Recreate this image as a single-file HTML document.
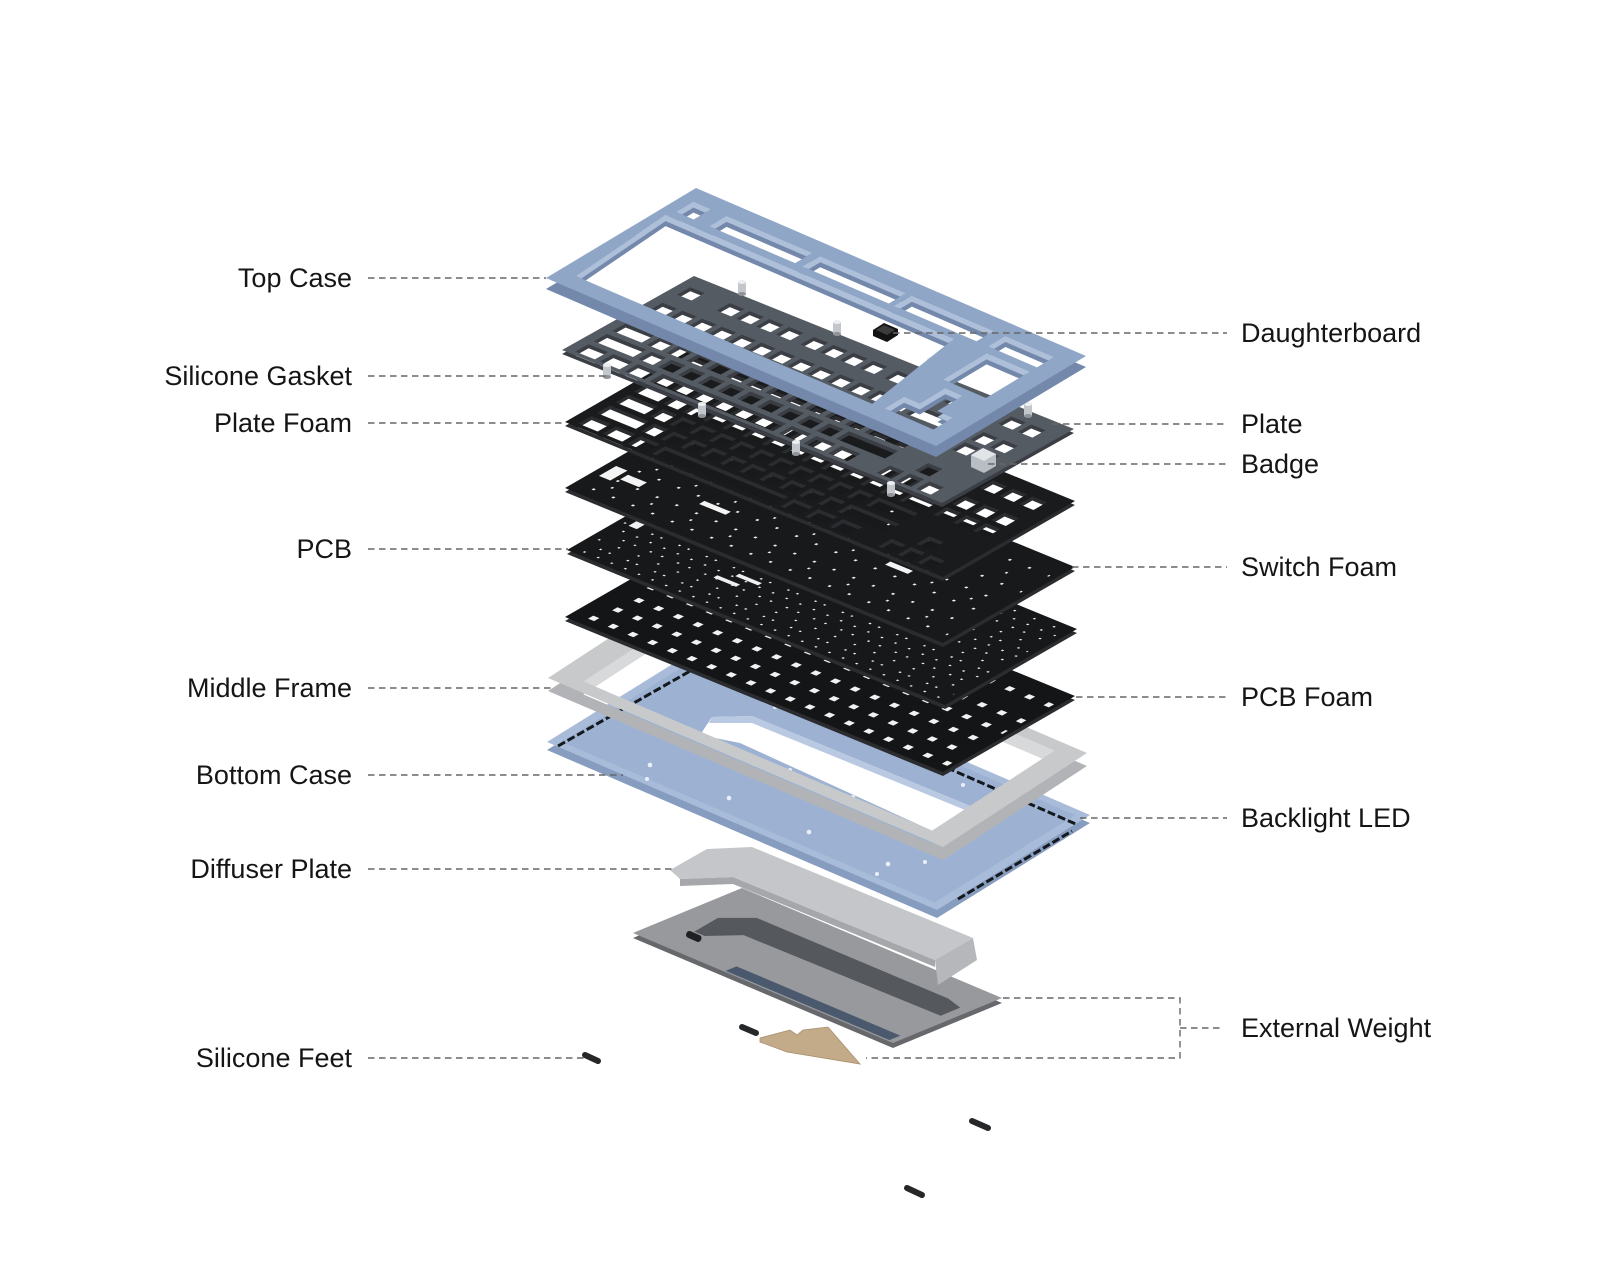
<!DOCTYPE html>
<html><head><meta charset="utf-8">
<style>
html,body{margin:0;padding:0;background:#fff;}
svg{display:block;}
text{font-family:"Liberation Sans",Arial,sans-serif;font-size:27px;fill:#151515;}
</style></head>
<body>
<svg width="1600" height="1280" viewBox="0 0 1600 1280" xmlns="http://www.w3.org/2000/svg">
<defs>
  <g id="kh" stroke-width="100" fill="none">
    <line x1="25" x2="739" y1="640" y2="640" stroke-dasharray="38 14"/>
    <line x1="701" x2="791" y1="640" y2="640"/>
    <line x1="818" x2="960" y1="640" y2="640" stroke-dasharray="38 14"/>
    <line x1="25" x2="89" y1="500" y2="500"/>
    <line x1="103" x2="713" y1="500" y2="500" stroke-dasharray="38 14"/>
    <line x1="727" x2="791" y1="500" y2="500"/>
    <line x1="818" x2="960" y1="500" y2="500" stroke-dasharray="38 14"/>
    <line x1="25" x2="102" y1="360" y2="360"/>
    <line x1="116" x2="674" y1="360" y2="360" stroke-dasharray="38 14"/>
    <line x1="688" x2="791" y1="360" y2="360"/>
    <line x1="25" x2="128" y1="220" y2="220"/>
    <line x1="142" x2="648" y1="220" y2="220" stroke-dasharray="38 14"/>
    <line x1="662" x2="791" y1="220" y2="220"/>
    <line x1="870" x2="908" y1="220" y2="220"/>
    <line x1="25" x2="206" y1="80" y2="80" stroke-dasharray="51 14"/>
    <line x1="220" x2="545" y1="80" y2="80"/>
    <line x1="560" x2="741" y1="80" y2="80" stroke-dasharray="51 14"/>
    <line x1="818" x2="960" y1="80" y2="80" stroke-dasharray="38 14"/>
    <line x1="25" x2="63" y1="850" y2="850"/>
    <line x1="129" x2="323" y1="850" y2="850" stroke-dasharray="38 14"/>
    <line x1="350" x2="544" y1="850" y2="850" stroke-dasharray="38 14"/>
    <line x1="571" x2="765" y1="850" y2="850" stroke-dasharray="38 14"/>
    <line x1="818" x2="960" y1="850" y2="850" stroke-dasharray="38 14"/>
  </g>
  <mask id="khm" maskUnits="userSpaceOnUse" x="-300" y="-300" width="1600" height="1600">
    <rect x="-300" y="-300" width="1600" height="1600" fill="#fff"/>
    <use href="#kh" stroke="#000"/>
  </mask>
  <clipPath id="tcc"><path d="M40 95L22 740H760L800 95Z M845 450H955V740H845Z M830 100H955V230H915V400H870V230H830Z M30 790H75V905H30Z M115 790H335V905H115Z M355 790H575V905H355Z M590 790H800V905H590Z M830 790H955V905H830Z"/></clipPath>
  <clipPath id="mfc"><path d="M62 75H945V925H62Z"/></clipPath>
</defs>

<!-- Silicone feet -->
<g stroke="#262729" stroke-width="6" stroke-linecap="round">
  <line x1="742" y1="1027" x2="756" y2="1033"/>
  <line x1="585" y1="1055" x2="598" y2="1061"/>
  <line x1="972" y1="1121" x2="988" y2="1128"/>
  <line x1="907" y1="1188" x2="922" y2="1195"/>
</g>

<!-- Brass external weight -->
<polygon points="760,1038 790,1030 797,1035 803,1030 828,1027 860,1064 787,1052 760,1042" fill="#c3aa89" stroke="#a88f6e" stroke-width="0.8"/>

<!-- Weight plate -->
<g transform="translate(0,5) matrix(0.260 0.110 0.109 -0.045 633 933)"><rect width="1000" height="1000" fill="#66686c"/></g>
<g transform="matrix(0.260 0.110 0.109 -0.045 633 933)">
  <rect width="1000" height="1000" fill="#97999c"/>
  <polygon points="110,300 92,560 165,740 900,745 965,700 965,520 220,490 150,300" fill="#55585d"/>
  <rect x="350" y="15" width="630" height="100" fill="#4a596e"/>
</g>
<rect x="686" y="933" width="16" height="7" rx="3" fill="#1f2022" transform="rotate(24 694 936)"/>

<!-- Diffuser plate -->
<polygon points="680,879 733,877 935,960 935,967 733,884 680,886" fill="#a6a7aa"/>
<polygon points="670,870 707,849 752,847 973,938 935,960 733,877 680,879" fill="#c5c6c9"/>
<polygon points="935,960 973,938 977,960 938,985" fill="#b6b7ba"/>

<!-- Bottom case -->
<g transform="translate(0,8) matrix(0.390 0.168 0.153 -0.095 547 742)"><rect width="1000" height="1000" fill="#879dc0"/></g>
<g transform="matrix(0.390 0.168 0.153 -0.095 547 742)">
  <rect width="1000" height="1000" fill="#a8bcda"/>
  <rect x="22" y="40" width="956" height="920" fill="#9db2d2"/>
</g>
<g stroke="#15181d" stroke-width="3" stroke-dasharray="8 3">
  <line x1="558" y1="746" x2="692" y2="670"/>
  <line x1="705" y1="662" x2="1078" y2="825"/>
  <line x1="958" y1="899" x2="1072" y2="831"/>
</g>
<polygon points="700,735 712,717 752,716 975,808 950,838 937,833 740,743" fill="#fff"/>
<polygon points="712,717 752,716 975,808 975,814 752,723 709,723" fill="#b9c9e2"/>
<g fill="#eaf0f8">
  <circle cx="650" cy="765" r="2.3"/><circle cx="647" cy="779" r="2"/><circle cx="729" cy="798" r="2.3"/>
  <circle cx="809" cy="832" r="2.3"/><circle cx="888" cy="864" r="2.3"/><circle cx="877" cy="874" r="2"/>
  <circle cx="853" cy="797" r="2"/><circle cx="790" cy="770" r="2"/><circle cx="775" cy="707" r="2"/>
  <circle cx="963" cy="785" r="2"/><circle cx="925" cy="862" r="2"/>
</g>

<!-- Middle frame -->
<g transform="translate(0,13) matrix(0.395 0.169 0.144 -0.094 548 678)"><path fill-rule="evenodd" fill="#b2b3b6" d="M0 0H1000V1000H0Z M62 75H945V925H62Z"/></g>
<g transform="matrix(0.395 0.169 0.144 -0.094 548 678)">
  <path fill-rule="evenodd" fill="#c8c9cb" d="M0 0H1000V1000H0Z M62 75H945V925H62Z"/>
  <path clip-path="url(#mfc)" fill-rule="evenodd" fill="#d8d9db" d="M-100 -200H1100V1100H-100Z M92 -9H975V841H92Z"/>
</g>

<!-- PCB Foam -->
<g transform="translate(0,4) matrix(0.378 0.155 0.132 -0.076 565 617)"><rect width="1000" height="1000" fill="#2b2c2f"/></g>
<g transform="matrix(0.378 0.155 0.132 -0.076 565 617)">
  <rect width="1000" height="1000" fill="#141517"/>
  <g stroke="#f2f2f2" stroke-width="40">
    <line x1="40" x2="990" y1="80" y2="80" stroke-dasharray="16 36"/>
    <line x1="55" x2="990" y1="220" y2="220" stroke-dasharray="16 36"/>
    <line x1="62" x2="990" y1="360" y2="360" stroke-dasharray="16 36"/>
    <line x1="48" x2="990" y1="500" y2="500" stroke-dasharray="16 36"/>
    <line x1="40" x2="990" y1="640" y2="640" stroke-dasharray="16 36"/>
    <line x1="40" x2="990" y1="850" y2="850" stroke-dasharray="16 36"/>
  </g>
</g>

<!-- PCB -->
<g transform="translate(0,4) matrix(0.378 0.155 0.132 -0.076 567 550)"><rect width="1000" height="1000" fill="#2b2c2f"/></g>
<g transform="matrix(0.378 0.155 0.132 -0.076 567 550)">
  <rect width="1000" height="1000" fill="#17181a"/>
  <g stroke="#f0f0f0" stroke-width="12">
    <line x1="30" x2="985" y1="40" y2="40" stroke-dasharray="5 31"/>
    <line x1="48" x2="985" y1="110" y2="110" stroke-dasharray="5 19 5 43"/>
    <line x1="20" x2="985" y1="180" y2="180" stroke-dasharray="5 47"/>
    <line x1="60" x2="985" y1="250" y2="250" stroke-dasharray="5 25 5 37"/>
    <line x1="35" x2="985" y1="320" y2="320" stroke-dasharray="5 31"/>
    <line x1="15" x2="985" y1="390" y2="390" stroke-dasharray="5 19 5 43"/>
    <line x1="52" x2="985" y1="460" y2="460" stroke-dasharray="5 47"/>
    <line x1="28" x2="985" y1="530" y2="530" stroke-dasharray="5 25 5 37"/>
    <line x1="40" x2="985" y1="600" y2="600" stroke-dasharray="5 31"/>
    <line x1="22" x2="985" y1="670" y2="670" stroke-dasharray="5 19 5 43"/>
    <line x1="55" x2="985" y1="740" y2="740" stroke-dasharray="5 47"/>
    <line x1="30" x2="985" y1="810" y2="810" stroke-dasharray="5 25 5 37"/>
    <line x1="45" x2="985" y1="880" y2="880" stroke-dasharray="5 31"/>
    <line x1="20" x2="985" y1="945" y2="945" stroke-dasharray="5 47"/>
  </g>
  <g fill="#f0f0f0">
    <rect x="30" y="380" width="22" height="90"/>
    <rect x="300" y="250" width="60" height="30"/>
    <rect x="330" y="330" width="60" height="30"/>
  </g>
</g>

<!-- Switch Foam -->
<g transform="translate(0,4) matrix(0.378 0.155 0.132 -0.076 565 488)"><rect width="1000" height="1000" fill="#2b2c2f"/></g>
<g transform="matrix(0.378 0.155 0.132 -0.076 565 488)">
  <rect width="1000" height="1000" fill="#18191b"/>
  <g stroke="#f0f0f0" stroke-width="16">
    <line x1="45" x2="985" y1="80" y2="80" stroke-dasharray="6 46"/>
    <line x1="60" x2="985" y1="220" y2="220" stroke-dasharray="6 46"/>
    <line x1="68" x2="985" y1="360" y2="360" stroke-dasharray="6 46"/>
    <line x1="52" x2="985" y1="500" y2="500" stroke-dasharray="6 46"/>
    <line x1="45" x2="985" y1="640" y2="640" stroke-dasharray="6 46"/>
    <line x1="45" x2="985" y1="850" y2="850" stroke-dasharray="6 46"/>
    <line x1="70" x2="985" y1="150" y2="150" stroke-dasharray="5 99"/>
    <line x1="90" x2="985" y1="430" y2="430" stroke-dasharray="5 99"/>
    <line x1="75" x2="985" y1="740" y2="740" stroke-dasharray="5 99"/>
  </g>
  <g fill="#f4f4f4">
    <rect x="20" y="200" width="30" height="130"/>
    <rect x="62" y="240" width="50" height="60"/>
    <rect x="250" y="300" width="70" height="40"/>
    <rect x="700" y="420" width="60" height="40"/>
  </g>
</g>

<!-- Plate Foam -->
<g transform="translate(0,4) matrix(0.378 0.155 0.132 -0.076 565 422)"><rect width="1000" height="1000" fill="#2b2c2f" mask="url(#khm)"/></g>
<g transform="matrix(0.378 0.155 0.132 -0.076 565 422)"><rect width="1000" height="1000" fill="#1a1b1d" mask="url(#khm)"/></g>

<!-- Plate -->
<g transform="translate(0,4) matrix(0.380 0.153 0.132 -0.074 562 350)"><rect width="1000" height="1000" fill="#3b3f45" mask="url(#khm)"/></g>
<g transform="matrix(0.380 0.153 0.132 -0.074 562 350)"><rect width="1000" height="1000" fill="#555b63" mask="url(#khm)"/></g>

<!-- Gaskets -->
<g>
  <g transform="translate(742,289)"><rect x="-4" y="-7" width="8" height="12" fill="#c3c7cc"/><ellipse cy="-7" rx="4" ry="2" fill="#eceef0"/><ellipse cy="5" rx="4" ry="2" fill="#8f949a"/></g>
  <g transform="translate(837,329)"><rect x="-4" y="-7" width="8" height="12" fill="#c3c7cc"/><ellipse cy="-7" rx="4" ry="2" fill="#eceef0"/><ellipse cy="5" rx="4" ry="2" fill="#8f949a"/></g>
  <g transform="translate(931,366)"><rect x="-4" y="-7" width="8" height="12" fill="#c3c7cc"/><ellipse cy="-7" rx="4" ry="2" fill="#eceef0"/><ellipse cy="5" rx="4" ry="2" fill="#8f949a"/></g>
  <g transform="translate(607,372)"><rect x="-4" y="-7" width="8" height="12" fill="#c3c7cc"/><ellipse cy="-7" rx="4" ry="2" fill="#eceef0"/><ellipse cy="5" rx="4" ry="2" fill="#8f949a"/></g>
  <g transform="translate(702,411)"><rect x="-4" y="-7" width="8" height="12" fill="#c3c7cc"/><ellipse cy="-7" rx="4" ry="2" fill="#eceef0"/><ellipse cy="5" rx="4" ry="2" fill="#8f949a"/></g>
  <g transform="translate(796,449)"><rect x="-4" y="-7" width="8" height="12" fill="#c3c7cc"/><ellipse cy="-7" rx="4" ry="2" fill="#eceef0"/><ellipse cy="5" rx="4" ry="2" fill="#8f949a"/></g>
  <g transform="translate(891,490)"><rect x="-4" y="-7" width="8" height="12" fill="#c3c7cc"/><ellipse cy="-7" rx="4" ry="2" fill="#eceef0"/><ellipse cy="5" rx="4" ry="2" fill="#8f949a"/></g>
  <g transform="translate(1028,411)"><rect x="-4" y="-7" width="8" height="12" fill="#c3c7cc"/><ellipse cy="-7" rx="4" ry="2" fill="#eceef0"/><ellipse cy="5" rx="4" ry="2" fill="#8f949a"/></g>
</g>

<!-- Daughterboard -->
<polygon points="873,330 884,323 898,329 898,335 887,342 873,336" fill="#131313"/>
<polygon points="876,330 884,325 895,330 887,335" fill="#3c3c3c"/>

<!-- Top case -->
<g transform="translate(0,11) matrix(0.390 0.168 0.150 -0.090 546 278)">
  <path fill-rule="evenodd" fill="#7388ab" d="M0 0H1000V1000H0Z M40 95L22 740H760L800 95Z M845 450H955V740H845Z M830 100H955V230H915V400H870V230H830Z M30 790H75V905H30Z M115 790H335V905H115Z M355 790H575V905H355Z M590 790H800V905H590Z M830 790H955V905H830Z"/>
</g>
<g transform="matrix(0.390 0.168 0.150 -0.090 546 278)">
  <path fill-rule="evenodd" fill="#8fa6c7" d="M0 0H1000V1000H0Z M40 95L22 740H760L800 95Z M845 450H955V740H845Z M830 100H955V230H915V400H870V230H830Z M30 790H75V905H30Z M115 790H335V905H115Z M355 790H575V905H355Z M590 790H800V905H590Z M830 790H955V905H830Z"/>
  <path clip-path="url(#tcc)" fill-rule="evenodd" fill="#adbfd9" d="M-100 -200H1100V1100H-100Z M55 56L37 701H775L815 56Z M860 411H970V701H860Z M845 61H970V191H930V361H885V191H845Z M45 751H90V866H45Z M130 751H350V866H130Z M370 751H590V866H370Z M605 751H815V866H605Z M845 751H970V866H845Z"/>
</g>

<!-- Badge -->
<polygon points="971,455 983,448 996,454 996,466 984,473 971,467" fill="#b9bec4"/>
<polygon points="971,455 983,448 996,454 984,461" fill="#e2e5e8"/>

<!-- Leader lines -->
<g stroke="#666" stroke-width="1.4" stroke-dasharray="6.5 4.5" fill="none">
  <line x1="368" y1="278" x2="546" y2="278"/>
  <line x1="368" y1="376" x2="606" y2="376"/>
  <line x1="368" y1="423" x2="564" y2="423"/>
  <line x1="368" y1="549" x2="568" y2="549"/>
  <line x1="368" y1="688" x2="551" y2="688"/>
  <line x1="368" y1="775" x2="623" y2="775"/>
  <line x1="368" y1="869" x2="672" y2="869"/>
  <line x1="368" y1="1058" x2="585" y2="1058"/>
  <line x1="893" y1="333" x2="1227" y2="333"/>
  <line x1="1052" y1="424" x2="1227" y2="424"/>
  <line x1="988" y1="464" x2="1227" y2="464"/>
  <line x1="1072" y1="567" x2="1227" y2="567"/>
  <line x1="1076" y1="697" x2="1227" y2="697"/>
  <line x1="1080" y1="818" x2="1227" y2="818"/>
  <path d="M1003 998H1180V1058H866"/>
  <line x1="1180" y1="1028" x2="1222" y2="1028"/>
</g>

<!-- Labels -->
<g text-anchor="end">
  <text x="352" y="287">Top Case</text>
  <text x="352" y="385">Silicone Gasket</text>
  <text x="352" y="432">Plate Foam</text>
  <text x="352" y="558">PCB</text>
  <text x="352" y="697">Middle Frame</text>
  <text x="352" y="784">Bottom Case</text>
  <text x="352" y="878">Diffuser Plate</text>
  <text x="352" y="1067">Silicone Feet</text>
</g>
<g>
  <text x="1241" y="342">Daughterboard</text>
  <text x="1241" y="433">Plate</text>
  <text x="1241" y="473">Badge</text>
  <text x="1241" y="576">Switch Foam</text>
  <text x="1241" y="706">PCB Foam</text>
  <text x="1241" y="827">Backlight LED</text>
  <text x="1241" y="1037">External Weight</text>
</g>
</svg>
</body></html>
